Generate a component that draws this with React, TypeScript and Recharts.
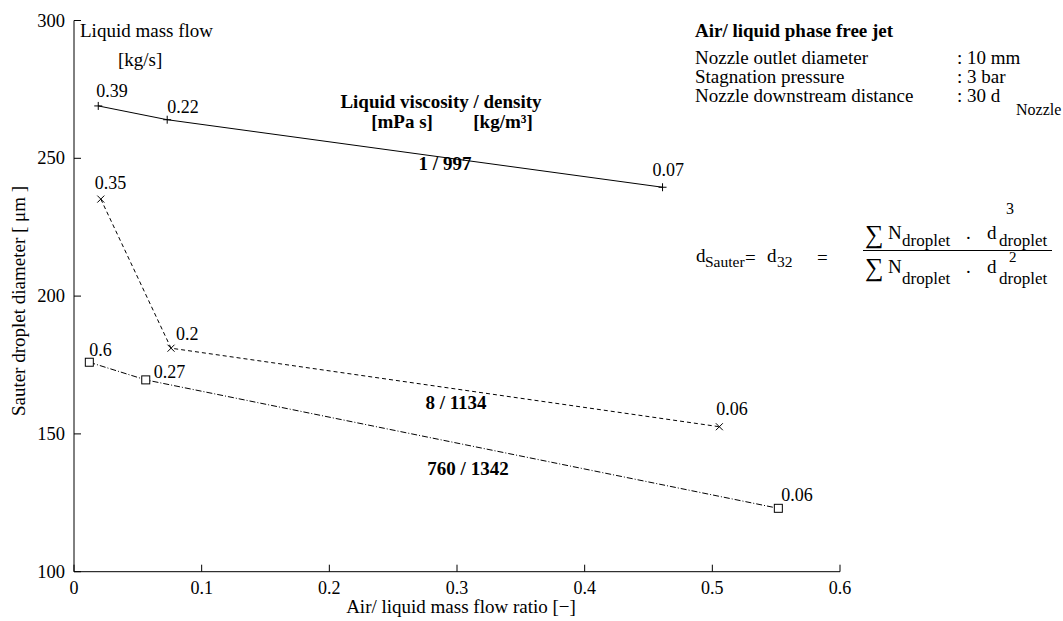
import React from 'react';
import { LineChart, Line, XAxis, YAxis } from 'recharts';

// ---- data ----
const ratio1 = [0.019, 0.073, 0.461];
const diam1 = [269, 264, 239.5];
const flow1 = ['0.39', '0.22', '0.07'];

const ratio2 = [0.021, 0.076, 0.5055];
const diam2 = [235.2, 181.1, 152.6];
const flow2 = ['0.35', '0.2', '0.06'];

const ratio3 = [0.012, 0.0562, 0.5517];
const diam3 = [176, 169.6, 123];
const flow3 = ['0.6', '0.27', '0.06'];

const xTicks = [0, 0.1, 0.2, 0.3, 0.4, 0.5, 0.6];
const yTicks = [100, 150, 200, 250, 300];

const seriesNames = ['1 / 997', '8 / 1134', '760 / 1342'];

// ---- label placement (style, not data) ----
const off1 = [[-2, -9], [0, -7], [-10, -11]];
const off2 = [[-6, -10], [5, -8], [-3, -12]];
const off3 = [[0, -6], [8, -2], [3, -7]];

const FONT = "'Liberation Serif', 'Times New Roman', serif";

const build = (xs: number[], ys: number[], ls: string[]) =>
  xs.map((x, i) => ({ x, d: ys[i], m: ls[i] }));

const data1 = build(ratio1, diam1, flow1);
const data2 = build(ratio2, diam2, flow2);
const data3 = build(ratio3, diam3, flow3);

const lbl = (cx: number, cy: number, text: string, o: number[]) => (
  <text x={cx + o[0]} y={cy + o[1]} fontSize={18} fontFamily={FONT} fill="#000">
    {text}
  </text>
);

const plusDot = (p: any) => {
  const { cx, cy, index, payload } = p;
  return (
    <g key={`p${index}`}>
      <line x1={cx - 4} x2={cx + 4} y1={cy} y2={cy} stroke="#000" />
      <line x1={cx} x2={cx} y1={cy - 4} y2={cy + 4} stroke="#000" />
      {lbl(cx, cy, payload.m, off1[index])}
    </g>
  );
};
const crossDot = (p: any) => {
  const { cx, cy, index, payload } = p;
  return (
    <g key={`c${index}`}>
      <line x1={cx - 3.5} x2={cx + 3.5} y1={cy - 3.5} y2={cy + 3.5} stroke="#000" />
      <line x1={cx - 3.5} x2={cx + 3.5} y1={cy + 3.5} y2={cy - 3.5} stroke="#000" />
      {lbl(cx, cy, payload.m, off2[index])}
    </g>
  );
};
const squareDot = (p: any) => {
  const { cx, cy, index, payload } = p;
  return (
    <g key={`s${index}`}>
      <rect x={cx - 4} y={cy - 4} width={8} height={8} fill="#fff" stroke="#000" />
      {lbl(cx, cy, payload.m, off3[index])}
    </g>
  );
};

const fmtX = (v: number) => (v === 0 ? '0' : String(Math.round(v * 10) / 10));

const XTick = (p: any) => {
  const { x, y, payload } = p;
  return (
    <g>
      <line x1={x} x2={x} y1={y} y2={y - 7} stroke="#000" />
      <text x={x} y={y + 22} textAnchor="middle" fontSize={18} fontFamily={FONT} fill="#000">
        {fmtX(payload.value)}
      </text>
    </g>
  );
};
const YTick = (p: any) => {
  const { x, y, payload } = p;
  return (
    <g>
      <line x1={x} x2={x + 7} y1={y} y2={y} stroke="#000" />
      <text x={x - 9} y={y + 6} textAnchor="end" fontSize={18.5} fontFamily={FONT} fill="#000">
        {payload.value}
      </text>
    </g>
  );
};

const T = (props: any) => (
  <text fontSize={19} fontFamily={FONT} fill="#000" {...props} />
);

const Overlay = () => (
  <svg
    width={1063}
    height={621}
    style={{ position: 'absolute', left: 0, top: 0, pointerEvents: 'none' }}
  >
    {/* axis titles */}
    <T x={25} y={301} fontSize={19} textAnchor="middle" transform="rotate(-90 25 301)">
      Sauter droplet diameter [ μm ]
    </T>
    <T x={461} y={613} fontSize={19} textAnchor="middle">
      Air/ liquid mass flow ratio [−]
    </T>

    {/* mass flow header */}
    <T x={80} y={37}>Liquid mass flow</T>
    <T x={118} y={66}>[kg/s]</T>

    {/* viscosity / density header */}
    <T x={441} y={108} textAnchor="middle" fontWeight="bold">Liquid viscosity / density</T>
    <T x={402} y={128} textAnchor="middle" fontWeight="bold">[mPa s]</T>
    <T x={503} y={128} textAnchor="middle" fontWeight="bold">[kg/m³]</T>

    <T x={445} y={170} textAnchor="middle" fontWeight="bold">{seriesNames[0]}</T>
    <T x={456} y={409} textAnchor="middle" fontWeight="bold">{seriesNames[1]}</T>
    <T x={468} y={475} textAnchor="middle" fontWeight="bold">{seriesNames[2]}</T>

    {/* conditions block */}
    <T x={695} y={37} fontWeight="bold">Air/ liquid phase free jet</T>
    <T x={695} y={64}>Nozzle outlet diameter</T>
    <T x={957} y={64}>: 10 mm</T>
    <T x={695} y={83}>Stagnation pressure</T>
    <T x={957} y={83}>: 3 bar</T>
    <T x={695} y={102}>Nozzle downstream distance</T>
    <T x={957} y={102}>: 30 d</T>
    <T x={1016} y={115} fontSize={16}>Nozzle</T>

    {/* formula */}
    <T x={696} y={262}>d</T>
    <T x={705} y={267} fontSize={15.5}>Sauter</T>
    <T x={745} y={264}>=</T>
    <T x={767} y={262}>d</T>
    <T x={777} y={267} fontSize={15.5}>32</T>
    <T x={817} y={264}>=</T>
    <line x1={863} x2={1052} y1={250.5} y2={250.5} stroke="#000" />

    <T x={865} y={243} fontSize={26}>∑</T>
    <T x={888} y={239}>N</T>
    <T x={902} y={246} fontSize={17}>droplet</T>
    <T x={966} y={239}>.</T>
    <T x={987} y={239}>d</T>
    <T x={1006} y={214} fontSize={16}>3</T>
    <T x={999} y={246} fontSize={17}>droplet</T>

    <T x={865} y={276} fontSize={26}>∑</T>
    <T x={888} y={273}>N</T>
    <T x={902} y={284} fontSize={17}>droplet</T>
    <T x={966} y={273}>.</T>
    <T x={987} y={273}>d</T>
    <T x={1009} y={262} fontSize={15}>2</T>
    <T x={999} y={284} fontSize={17}>droplet</T>
  </svg>
);

export default function App() {
  return (
    <div style={{ position: 'absolute', left: 0, top: 0, width: 1063, height: 621, background: '#fff' }}>
      <LineChart
        width={1063}
        height={621}
        margin={{ top: 20.5, left: 14, right: 223, bottom: 19.3 }}
      >
        <XAxis
          type="number"
          dataKey="x"
          domain={[0, 0.6]}
          ticks={xTicks}
          allowDataOverflow
          height={30}
          tickSize={0}
          tickMargin={0}
          tickLine={false}
          axisLine={{ stroke: '#000', strokeWidth: 1 }}
          tick={<XTick />}
          interval={0}
        />
        <YAxis
          type="number"
          dataKey="d"
          domain={[100, 300]}
          ticks={yTicks}
          allowDataOverflow
          width={60}
          tickSize={0}
          tickMargin={0}
          tickLine={false}
          axisLine={{ stroke: '#000', strokeWidth: 1 }}
          tick={<YTick />}
          interval={0}
        />
        <Line
          data={data1}
          dataKey="d"
          stroke="#000"
          strokeWidth={1}
          dot={plusDot}
          activeDot={false}
          isAnimationActive={false}
          type="linear"
        />
        <Line
          data={data2}
          dataKey="d"
          stroke="#000"
          strokeWidth={1}
          strokeDasharray="4 3"
          dot={crossDot}
          activeDot={false}
          isAnimationActive={false}
          type="linear"
        />
        <Line
          data={data3}
          dataKey="d"
          stroke="#000"
          strokeWidth={1}
          strokeDasharray="6 2 1 2"
          dot={squareDot}
          activeDot={false}
          isAnimationActive={false}
          type="linear"
        />
      </LineChart>
      <Overlay />
    </div>
  );
}
